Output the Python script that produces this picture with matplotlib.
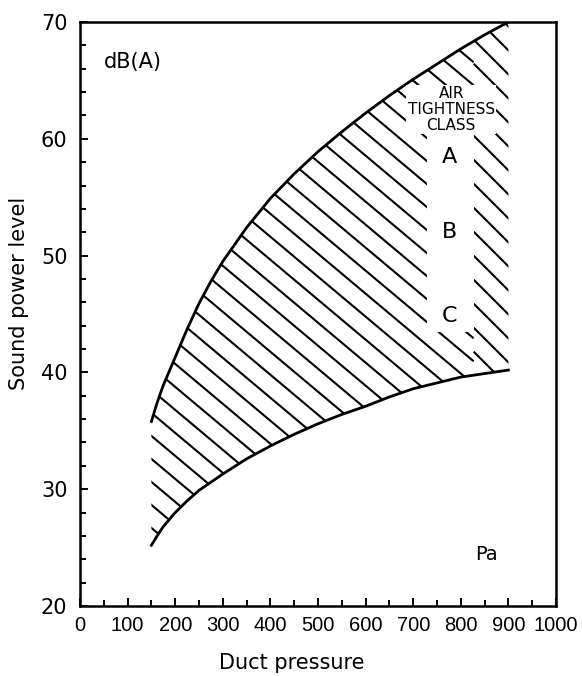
"""Sound power level vs duct pressure, hatched band with air tightness classes."""
import matplotlib.pyplot as plt
import numpy as np
from matplotlib.collections import LineCollection
from matplotlib.patches import Rectangle
from matplotlib.ticker import MultipleLocator

# upper and lower bounds of the band
upper_p = [150, 162, 175, 200, 225, 250, 275, 300, 350, 400, 450, 500, 550, 600, 650, 700, 750, 800, 850, 900]
upper_db = [35.8, 37.4, 38.9, 41.3, 43.7, 45.9, 47.8, 49.5, 52.4, 54.9, 57.0, 58.9, 60.6, 62.2, 63.7, 65.1, 66.4, 67.7, 68.9, 70.0]
lower_p = [150, 162, 175, 200, 225, 250, 275, 300, 350, 400, 450, 500, 550, 600, 650, 700, 750, 800, 850, 900]
lower_db = [25.2, 26.0, 26.8, 28.0, 29.0, 29.9, 30.6, 31.3, 32.6, 33.7, 34.7, 35.6, 36.4, 37.1, 37.9, 38.6, 39.1, 39.6, 39.9, 40.2]

class_labels = ["A", "B", "C"]
class_db = [58.4, 52.0, 44.8]

x_ticks = list(range(0, 1001, 100))
y_ticks = list(range(20, 71, 10))

W_PX, H_PX = 582, 676
AX_POS = [80 / W_PX, 70 / H_PX, 476 / W_PX, 584 / H_PX]


def hatch_lines(ax, clip, x0, x1, angle_deg=40, spacing_px=23, lw=1.5):
    """Draw '\\' style hatch lines between axes fractions x0..x1, clipped to a patch."""
    w = AX_POS[2] * W_PX
    h = AX_POS[3] * H_PX
    t = np.tan(np.radians(angle_deg))
    segs = []
    for c in np.arange(0, h + t * w + spacing_px, spacing_px):
        segs.append([(x0, (c - t * w * x0) / h), (x1, (c - t * w * x1) / h)])
    lc = LineCollection(segs, colors="black", linewidths=lw, transform=ax.transAxes, zorder=2)
    ax.add_collection(lc)
    lc.set_clip_path(clip)


def main():
    plt.rcParams["font.family"] = ["DejaVu Sans"]
    fig = plt.figure(figsize=(W_PX / 100, H_PX / 100), dpi=100)
    ax = fig.add_axes(AX_POS)

    band_x = np.concatenate([upper_p, lower_p[::-1]])
    band_y = np.concatenate([upper_db, lower_db[::-1]])
    band = ax.fill(band_x, band_y, facecolor="none", edgecolor="none")[0]
    # main hatching, and the steeper strip on the right of the labels
    hatch_lines(ax, band, 0.0, 0.827, angle_deg=40)
    hatch_lines(ax, band, 0.827, 1.0, angle_deg=45, spacing_px=24)

    ax.plot(upper_p, upper_db, color="black", lw=2, zorder=4)
    ax.plot(lower_p, lower_db, color="black", lw=2, zorder=4)

    # clear column behind the class labels
    ax.add_patch(Rectangle((730, 43.5), 97, 17.5, facecolor="white", edgecolor="none", zorder=3))
    ax.text(780, 62.5, "AIR\nTIGHTNESS\nCLASS", ha="center", va="center", fontsize=11,
            linespacing=1.05, zorder=5,
            bbox=dict(facecolor="white", edgecolor="none", pad=1.0))
    for lab, db in zip(class_labels, class_db):
        ax.text(777, db, lab, ha="center", va="center", fontsize=16, zorder=5)

    ax.text(50, 66.6, "dB(A)", ha="left", va="center", fontsize=15)
    ax.text(830, 24.4, "Pa", ha="left", va="center", fontsize=14)

    ax.set_xlim(0, 1000)
    ax.set_ylim(20, 70)
    ax.set_xticks(x_ticks)
    ax.set_yticks(y_ticks)
    ax.xaxis.set_minor_locator(MultipleLocator(50))
    ax.yaxis.set_minor_locator(MultipleLocator(2))
    ax.tick_params(which="both", direction="in", top=False, right=False, width=1.4)
    ax.tick_params(which="major", length=6)
    ax.tick_params(which="minor", length=4)
    ax.tick_params(axis="y", labelsize=15, pad=9)
    ax.tick_params(axis="x", pad=7)
    for lbl in ax.get_xticklabels():
        lbl.set_family(["Liberation Sans", "DejaVu Sans"])
        lbl.set_fontsize(14.5)
    for sp in ax.spines.values():
        sp.set_linewidth(1.8)

    ax.set_xlabel("Duct pressure", fontsize=15)
    ax.set_ylabel("Sound power level", fontsize=15)
    ax.xaxis.set_label_coords(0.445, -0.08)
    ax.yaxis.set_label_coords(-0.108, 0.536)

    fig.savefig("out.png", dpi=100)
    plt.close(fig)


if __name__ == "__main__":
    main()
